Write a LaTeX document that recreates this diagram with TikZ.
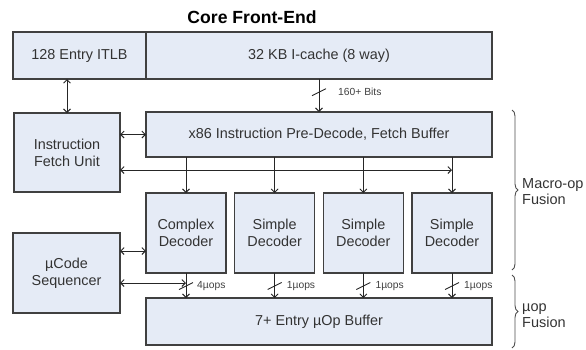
\documentclass[tikz,border=0pt]{standalone}
\usepackage{fontspec}
\setmainfont{Liberation Sans}
\usetikzlibrary{arrows.meta,decorations.pathreplacing,calc}
\definecolor{boxfill}{RGB}{229,235,246}
\definecolor{boxline}{RGB}{64,64,64}
\begin{document}
\begin{tikzpicture}[x=1pt,y=-1pt,
  box/.style={draw=boxline,fill=boxfill,line width=1.1pt,inner sep=0pt,outer sep=0pt,
    align=center,font=\fontsize{14.4}{17}\selectfont,text=black!80},
  conn/.style={draw=black!85,line width=0.9pt},
  >={Straight Barb[length=3.5pt,width=7pt]},
  small/.style={font=\fontsize{10.3}{11}\selectfont,text=black!75,anchor=west,inner sep=0pt},
  bracetext/.style={font=\fontsize{14.5}{16}\selectfont,text=black!80,anchor=west,align=left,inner sep=0pt},
  slash/.style={draw=black!85,line width=0.9pt}
]
\useasboundingbox (0,0) rectangle (586,349);

\node[font=\bfseries\fontsize{17.6}{19}\selectfont] (title) at (252,17) {Core Front-End};

\node[box,minimum width=133pt,minimum height=47pt] (itlb) at (79.5,55.5) {128 Entry ITLB};
\node[box,minimum width=346pt,minimum height=47pt] (icache) at (319,55.5) {32 KB I-cache (8 way)};
\node[box,minimum width=106pt,minimum height=79pt] (ifu) at (67,152.5) {Instruction\\Fetch Unit};
\node[box,minimum width=346pt,minimum height=45pt] (pre) at (319,134.5) {x86 Instruction Pre-Decode, Fetch Buffer};
\node[box,minimum width=80pt,minimum height=80pt] (cd) at (186,233) {Complex\\Decoder};
\node[box,minimum width=80pt,minimum height=80pt] (sd1) at (274.67,233) {Simple\\Decoder};
\node[box,minimum width=80pt,minimum height=80pt] (sd2) at (363.33,233) {Simple\\Decoder};
\node[box,minimum width=80pt,minimum height=80pt] (sd3) at (452,233) {Simple\\Decoder};
\node[box,minimum width=107pt,minimum height=80pt] (ucs) at (66.5,273) {µCode\\Sequencer};
\node[box,minimum width=346pt,minimum height=47pt] (ubuf) at (319,321.5) {7+ Entry µOp Buffer};

% ITLB <-> IFU
\draw[conn,<->] (ifu.north |- itlb.south) -- (ifu.north);
% IFU <-> pre-decode
\draw[conn,<->] (ifu.east |- pre.west) -- (pre.west);
% I-cache -> pre-decode
\draw[conn,->] (icache.south) -- (pre.north);
\draw[slash] ($(icache.south)!0.4!(pre.north)+(-7,3.5)$) -- ++(14,-7);
\node[small] (bits) at (338,92) {160+ Bits};
% feedback line
\coordinate (fb) at (452,170);
\draw[conn,<->] (ifu.east |- fb) -- (fb);
% pre-decode -> decoders
\foreach \d in {cd,sd1,sd2,sd3}{
  \draw[conn,->] (pre.south -| \d.north) -- (\d.north);
  \draw[conn,->] (\d.south) -- (ubuf.north -| \d.south);
  \draw[slash] ($(\d.south)+(-7,16.5)$) -- ++(14,-7);
}
\node[small] (l0) at ($(cd.south)+(11,13)$) {4µops};
\node[small] (l1) at ($(sd1.south)+(12,13)$) {1µops};
\node[small] (l2) at ($(sd2.south)+(12,13)$) {1µops};
\node[small] (l3) at ($(sd3.south)+(12,13)$) {1µops};
% uCode connections
\coordinate (u1) at (146,251);
\draw[conn,<->] (ucs.east |- u1) -- (u1);
\coordinate (u2) at (186,283);
\draw[conn,<->] (ucs.east |- u2) -- (u2);

% braces
\coordinate (b1t) at (512,110);
\coordinate (b1b) at (512,270);
\coordinate (b2t) at (512,275);
\coordinate (b2b) at (512,348);
\draw[draw=black!70,line width=0.9pt,decorate,decoration={brace,amplitude=6pt}] (b1t) -- (b1b);
\draw[draw=black!70,line width=0.9pt,decorate,decoration={brace,amplitude=6pt}] (b2t) -- (b2b);
\node[bracetext] (mf) at (522,192) {Macro-op\\Fusion};
\node[bracetext] (uf) at (522,316) {µop\\Fusion};
\end{tikzpicture}
\end{document}
